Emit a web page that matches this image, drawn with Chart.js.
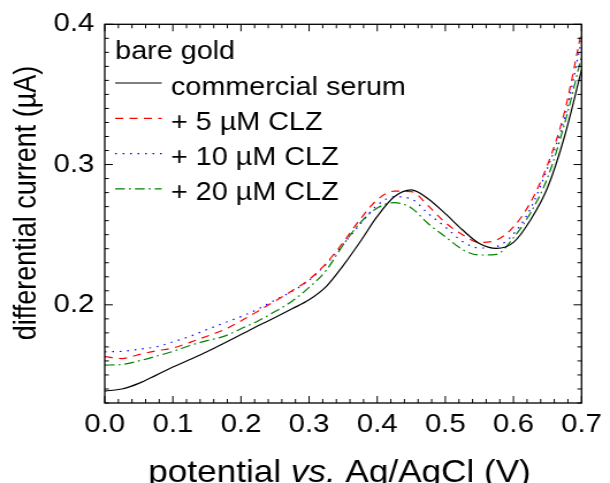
<!DOCTYPE html>
<html>
<head>
<meta charset="utf-8">
<script src="https://cdn.jsdelivr.net/npm/chart.js@4.4.1/dist/chart.umd.min.js"></script>
<style>
  html, body { margin: 0; padding: 0; background: #fff; }
  canvas { display: block; }
</style>
</head>
<body>
<!-- the reference figure is stretched sideways, so the canvas is drawn narrow and widened by css -->
<canvas id="chart" width="530" height="483" style="width:610px;height:483px"></canvas>
<script>
// potential (V) and differential current (µA)
const potential = [0.000, 0.025, 0.050, 0.075, 0.100, 0.125, 0.150, 0.175, 0.200, 0.225,
  0.250, 0.275, 0.300, 0.325, 0.350, 0.375, 0.400, 0.425, 0.450, 0.475,
  0.500, 0.525, 0.550, 0.575, 0.600, 0.625, 0.650, 0.675, 0.700];
const serum = [0.1385, 0.1400, 0.1440, 0.1497, 0.1556, 0.1610, 0.1665, 0.1726, 0.1788, 0.1850,
  0.1910, 0.1972, 0.2036, 0.2130, 0.2280, 0.2450, 0.2630, 0.2770, 0.2819, 0.2755,
  0.2650, 0.2535, 0.2437, 0.2402, 0.2445, 0.2605, 0.2835, 0.3200, 0.3675];
const clz5 = [0.1630, 0.1617, 0.1645, 0.1672, 0.1692, 0.1732, 0.1776, 0.1822, 0.1885, 0.1955,
  0.2027, 0.2100, 0.2180, 0.2296, 0.2445, 0.2610, 0.2748, 0.2810, 0.2807, 0.2705,
  0.2586, 0.2500, 0.2445, 0.2462, 0.2555, 0.2730, 0.2997, 0.3375, 0.3950];
const clz10 = [0.1665, 0.1668, 0.1683, 0.1700, 0.1736, 0.1775, 0.1824, 0.1870, 0.1916, 0.1970,
  0.2034, 0.2096, 0.2175, 0.2290, 0.2430, 0.2575, 0.2710, 0.2770, 0.2755, 0.2650,
  0.2555, 0.2452, 0.2405, 0.2415, 0.2505, 0.2685, 0.2975, 0.3330, 0.3886];
const clz20 = [0.1570, 0.1575, 0.1600, 0.1633, 0.1668, 0.1710, 0.1745, 0.1775, 0.1830, 0.1885,
  0.1952, 0.2026, 0.2124, 0.2245, 0.2427, 0.2585, 0.2690, 0.2728, 0.2691, 0.2578,
  0.2485, 0.2395, 0.2355, 0.2360, 0.2478, 0.2655, 0.2905, 0.3290, 0.3770];

const seriesNames = ["commercial serum", "+ 5 µM CLZ", "+ 10 µM CLZ", "+ 20 µM CLZ"];
const legendTitle = "bare gold";
const xTicks = [0.0, 0.1, 0.2, 0.3, 0.4, 0.5, 0.6, 0.7];
const yTicks = [0.2, 0.3, 0.4];

const FONT = "'Liberation Sans', Arial, sans-serif";
Chart.defaults.font.family = FONT;
Chart.defaults.color = "#000";

function line(values, label, color, dash) {
  return {
    label,
    data: potential.map((x, i) => ({ x, y: values[i] })),
    borderColor: color,
    borderWidth: 1.2,
    borderDash: dash,
    pointRadius: 0,
    tension: 0.4,
    cubicInterpolationMode: "monotone",
    fill: false,
  };
}

// frame with inward ticks on all four sides, like the origin-style plot
const frame = {
  id: "frame",
  afterDraw(chart) {
    const { ctx, chartArea: a, scales: { x, y } } = chart;
    ctx.save();
    ctx.strokeStyle = "#000";
    ctx.lineWidth = 1.3;
    ctx.strokeRect(a.left, a.top, a.right - a.left, a.bottom - a.top);
    ctx.lineWidth = 1;
    ctx.beginPath();
    for (let i = 0; i <= 35; i++) {
      const px = x.getPixelForValue(i * 0.02);
      const len = i % 5 === 0 ? 7 : 4;
      ctx.moveTo(px, a.bottom); ctx.lineTo(px, a.bottom - len);
      ctx.moveTo(px, a.top); ctx.lineTo(px, a.top + len);
    }
    for (let i = 13; i <= 40; i++) {
      const py = y.getPixelForValue(i / 100);
      const len = i % 10 === 0 ? 7 : 3.6;
      ctx.moveTo(a.left, py); ctx.lineTo(a.left + len, py);
      ctx.moveTo(a.right, py); ctx.lineTo(a.right - len, py);
    }
    ctx.stroke();
    ctx.restore();
  }
};

// legend in the top-left corner of the plot, with a heading line
const insideLegend = {
  id: "insideLegend",
  afterDraw(chart) {
    const { ctx } = chart;
    const x0 = 100, x1 = 140.5, tx = 148.5;
    ctx.save();
    ctx.font = "25px " + FONT;
    ctx.fillStyle = "#000";
    ctx.textBaseline = "alphabetic";
    ctx.fillText(legendTitle, x0, 59);
    chart.data.datasets.forEach((ds, i) => {
      const ly = 83 + i * 35.3;
      ctx.strokeStyle = ds.borderColor;
      ctx.lineWidth = 1.2;
      ctx.setLineDash(ds.borderDash || []);
      ctx.beginPath();
      ctx.moveTo(x0, ly); ctx.lineTo(x1, ly);
      ctx.stroke();
      ctx.setLineDash([]);
      ctx.fillText(ds.label, tx, ly + 11.5);
    });
    ctx.restore();
  }
};

// axis titles; the x one has "vs." in italics
const axisTitles = {
  id: "axisTitles",
  afterDraw(chart) {
    const { ctx } = chart;
    ctx.save();
    ctx.fillStyle = "#000";
    ctx.font = "27px " + FONT;
    ctx.translate(24, 203);
    ctx.rotate(-Math.PI / 2);
    ctx.textAlign = "center";
    ctx.textBaseline = "middle";
    ctx.fillText(chart.options.scales.y.title.text, 0, 0);
    ctx.restore();

    const parts = [["potential ", ""], ["vs.", "italic "], [" Ag/AgCl (V)", ""]];
    ctx.save();
    ctx.fillStyle = "#000";
    ctx.textBaseline = "alphabetic";
    let total = 0;
    parts.forEach(p => { ctx.font = p[1] + "30.5px " + FONT; total += ctx.measureText(p[0]).width; });
    let cx = 295 - total / 2;
    parts.forEach(p => {
      ctx.font = p[1] + "30.5px " + FONT;
      ctx.fillText(p[0], cx, 482);
      cx += ctx.measureText(p[0]).width;
    });
    ctx.restore();
  }
};

new Chart(document.getElementById("chart"), {
  type: "line",
  data: {
    datasets: [
      line(serum, seriesNames[0], "#000000", []),
      line(clz5, seriesNames[1], "#ff0000", [7, 5.5]),
      line(clz10, seriesNames[2], "#0000ff", [1.5, 5]),
      line(clz20, seriesNames[3], "#008000", [8.5, 3.5, 1.7, 3.5]),
    ]
  },
  options: {
    responsive: false,
    animation: false,
    devicePixelRatio: 1,
    layout: { padding: { top: 24, right: 18, left: 0, bottom: 0 } },
    plugins: { legend: { display: false }, tooltip: { enabled: false } },
    scales: {
      x: {
        type: "linear",
        min: 0, max: 0.7,
        afterBuildTicks: s => { s.ticks = xTicks.map(v => ({ value: v })); },
        afterFit: s => { s.height = 80; },
        grid: { display: false, drawTicks: false },
        border: { display: false },
        ticks: { padding: 7, font: { size: 25.5 }, maxRotation: 0, callback: v => v.toFixed(1) },
        title: { display: false, text: "potential vs. Ag/AgCl (V)" }
      },
      y: {
        type: "linear",
        min: 0.13, max: 0.4,
        afterBuildTicks: s => { s.ticks = yTicks.map(v => ({ value: v })); },
        afterFit: s => { s.width = 91; },
        grid: { display: false, drawTicks: false },
        border: { display: false },
        ticks: { padding: 9, font: { size: 25.5 }, callback: v => v.toFixed(1) },
        title: { display: false, text: "differential current (µA)" }
      }
    }
  },
  plugins: [frame, insideLegend, axisTitles]
});
</script>
</body>
</html>
